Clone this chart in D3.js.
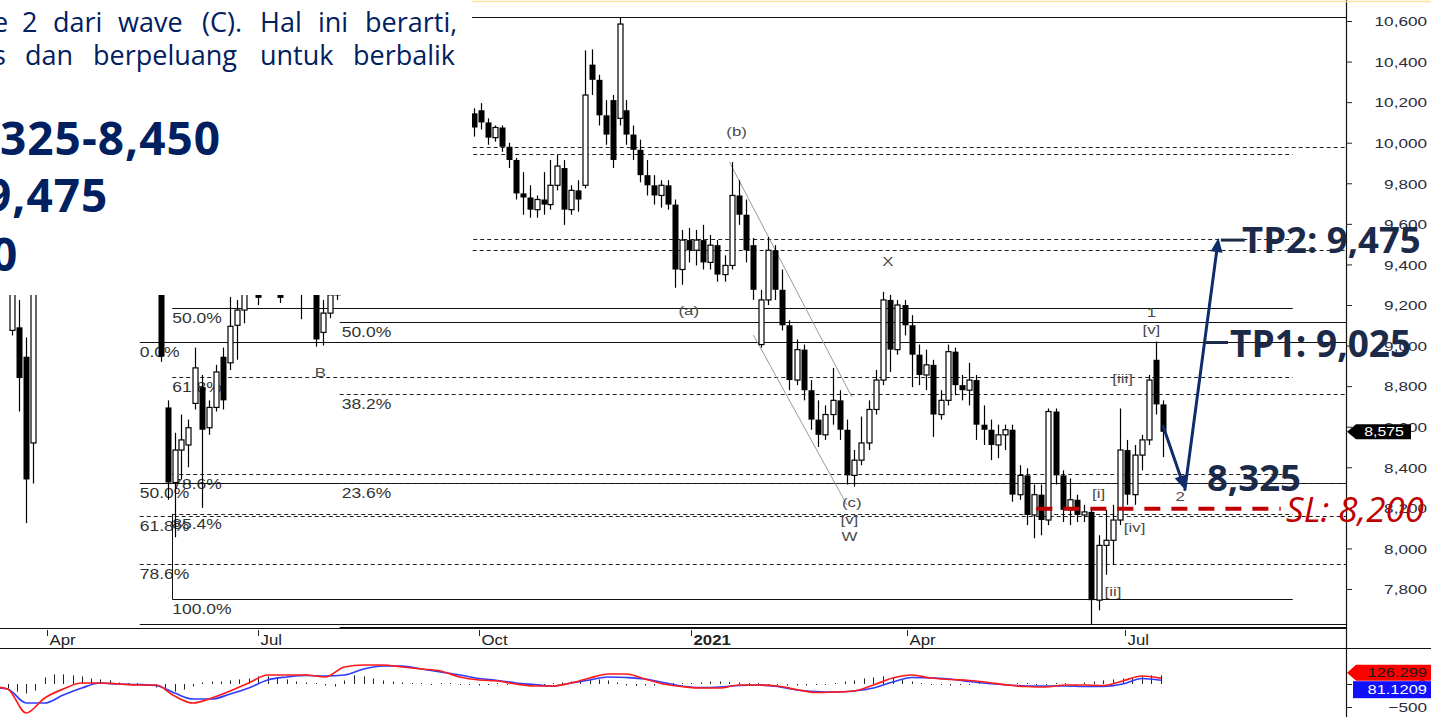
<!DOCTYPE html>
<html>
<head>
<meta charset="utf-8">
<script src="https://cdn.jsdelivr.net/npm/d3@7/dist/d3.min.js"></script>
<style>
html,body{margin:0;padding:0;background:#fff;overflow:hidden;}
svg{display:block;}
</style>
</head>
<body>
<svg id="chart" width="1431" height="717"></svg>
<script>
// ================= DATA =================
const axisMonths = ['2020-04-01','2020-07-01','2020-10-01','2021-01-01','2021-04-01','2021-07-01'];
const axisMonthLabels = ['Apr','Jul','Oct','2021','Apr','Jul'];
const priceTicks = [7800,8000,8200,8400,8600,8800,9000,9200,9400,9600,9800,10000,10200,10400,10600];
const candleStepDays = 3;

// candles: [open, high, low, close]
const candlesMarStart = '2020-03-17';
const candlesMar = [
 [9075,9420,9050,9300],[9090,9225,8675,8840],[8945,9040,8125,8340],[8520,9420,8320,9275]
];
const candlesMidStart = '2020-05-20';
const candlesMid = [
 [9375,9410,8920,8945],[8695,8730,8240,8325],[8325,8570,8055,8485],[8485,8660,8340,8535],
 [8510,8635,8400,8595],[8715,8990,8685,8890],[8795,8855,8200,8585],[8595,8730,8560,8695],
 [8695,8905,8675,8870],[8945,8990,8685,8730],[8915,9240,8880,9095],[9100,9225,8930,9175],
 [9175,9420,9110,9325],[9325,9520,9260,9420],[9375,9445,9200,9235],[9375,9470,9260,9300],
 [9300,9420,9255,9350],[9350,9420,9210,9235],[9275,9445,9255,9395],[9395,9470,9260,9325],
 [9325,9410,9130,9300],[9300,9420,9255,9350],[9350,9395,8995,9030],[9065,9225,9000,9160],
 [9160,9325,9135,9250],[9250,9420,9225,9325]
];
const candlesMainStart = '2020-09-29';
const candlesMain = [
 [10145,10170,10030,10075],[10160,10195,10065,10100],[10100,10120,9990,10025],[10025,10085,10005,10075],
 [10075,10085,9955,9980],[9980,10000,9875,9915],[9915,9925,9720,9750],[9750,9855,9645,9730],
 [9730,9790,9630,9670],[9670,9740,9630,9720],[9720,9855,9645,9695],[9695,9915,9670,9790],
 [9790,9940,9765,9885],[9875,9915,9595,9670],[9670,9790,9645,9765],[9765,9815,9660,9720],
 [9790,10455,9775,10235],[10385,10460,10235,10310],[10310,10335,10085,10135],[10135,10210,9990,10040],
 [10210,10235,9875,9915],[10120,10620,10085,10585],[10160,10210,9990,10040],[10040,10085,9915,9965],
 [9965,10015,9805,9840],[9840,9915,9740,9790],[9790,9840,9695,9740],[9740,9815,9680,9790],
 [9790,9815,9670,9695],[9695,9720,9285,9375],[9375,9570,9300,9520],[9520,9580,9410,9470],
 [9470,9570,9395,9520],[9520,9595,9375,9410],[9410,9545,9375,9495],[9495,9520,9315,9350],
 [9350,9445,9315,9395],[9395,9905,9375,9740],[9740,9815,9595,9645],[9645,9720,9410,9470],
 [9495,9530,9225,9275],[9005,9275,8990,9225],[9225,9535,9200,9470],[9470,9495,9225,9275],
 [9275,9375,9075,9100],[9100,9125,8780,8830],[8830,9030,8805,8980],[8980,9005,8730,8780],
 [8780,8830,8585,8635],[8635,8730,8500,8560],[8560,8705,8535,8660],[8660,8890,8610,8730],
 [8730,8780,8535,8585],[8585,8635,8315,8360],[8360,8485,8305,8435],[8435,8650,8410,8520],
 [8520,8730,8485,8685],[8685,8880,8660,8830],[8830,9265,8805,9225],[9225,9250,8870,8980],
 [8980,9225,8955,9200],[9200,9225,9050,9100],[9100,9150,8795,8955],[8955,9005,8805,8855],
 [8855,8980,8780,8905],[8905,8930,8550,8660],[8660,8780,8635,8730],[8730,9005,8705,8970],
 [8970,8990,8755,8805],[8805,8855,8730,8780],[8780,8915,8705,8830],[8830,8855,8535,8610],
 [8610,8705,8510,8585],[8585,8635,8435,8510],[8510,8610,8445,8560],[8560,8610,8485,8585],
 [8585,8610,8230,8265],[8265,8410,8240,8360],[8360,8395,8115,8165],[8165,8315,8050,8265],
 [8265,8315,8065,8140],[8140,8690,8115,8675],[8675,8690,8315,8360],[8360,8385,8130,8190],
 [8190,8345,8115,8240],[8240,8265,8130,8165],[8165,8215,8130,8180],[8180,8190,7625,7745],
 [7745,8065,7695,8015],[8015,8190,7870,8040],[8040,8215,7920,8140],[8140,8690,8115,8485],
 [8485,8535,8215,8265],[8265,8510,8215,8460],[8460,8560,8385,8535],[8535,8855,8510,8830],
 [8930,9020,8660,8710],[8710,8730,8450,8575]
];
const lastPrice = 8575;

// MACD panel
const macdStart = '2020-03-07';
const macdStepDays = 8;
const macdLine = [-43,-109,-630,-304,-109,22,22,0,-22,-22,
 -261,-413,-304,-152,22,196,196,196,152,370,
 413,413,370,326,283,152,87,65,0,-43,
 -43,22,130,217,217,109,0,-54,-87,-87,
 -22,-22,-43,-120,-185,-174,-152,-22,130,196,
 130,98,76,33,-22,-54,-65,-22,-22,-33,
 65,174,126.299];
const signalLine = [-65,-109,-413,-413,-239,-87,22,0,-11,-33,
 -196,-326,-326,-217,-87,87,152,185,174,196,
 326,391,391,326,261,196,120,76,22,-11,
 -43,22,87,152,141,109,33,-43,-76,-65,
 -33,-22,-54,-130,-163,-174,-152,-87,43,141,
 130,109,54,11,-22,-43,-43,-43,-54,-54,
 0,120,81.1209];
const histStart = '2020-03-11';
const histStepDays = 4;
const histValues = [-44,-88,-154,-198,-132,132,198,198,176,154,
 110,88,66,22,11,11,-22,-66,-132,-154,
 -110,-44,22,44,44,66,88,110,154,154,
 132,88,44,22,11,-22,-44,66,176,154,
 110,66,44,22,11,11,-11,11,11,-11,
 -11,-22,-11,11,-11,-11,-11,-11,-11,11,
 22,44,66,88,88,66,22,-22,-33,-22,
 -22,-11,11,11,11,22,44,44,33,22,
 11,11,-11,-11,-22,-22,-22,-11,-11,11,
 44,66,110,132,154,132,88,44,11,-11,
 -11,-22,-11,-11,11,11,-11,-11,11,11,
 -11,-11,11,11,-11,22,44,66,88,110,
 132,154,176,176];
const macdTicks = [0,-500];
const macdTagRed = 126.299;
const macdTagBlue = 81.1209;

// Fibonacci tools
const fibA = {start:'2020-05-25', end:'2021-09-09', p0:10620, p100:7751, levels:[0,23.6,38.2,50,61.8,78.6,85.4,100]};
const fibB = {start:'2020-05-11', end:'2021-10-10', p0:9018, p100:7628, levels:[0,50,61.8,78.6,100]};
const fibC = {start:'2020-08-04', end:'2021-10-10', p0:7614, p100:10620, levels:[0,23.6,38.2,50,61.8,78.6,100]};

// Elliott wave labels
const waveLabels = [
 {t:'(b)', d:'2021-01-20', p:10055},
 {t:'(a)', d:'2020-12-31', p:9175},
 {t:'X', d:'2021-03-24', p:9415},
 {t:'B', d:'2020-07-27', p:8870},
 {t:'(c)', d:'2021-03-09', p:8230},
 {t:'[v]', d:'2021-03-08', p:8145},
 {t:'W', d:'2021-03-08', p:8060},
 {t:'1', d:'2021-07-12', p:9165},
 {t:'[v]', d:'2021-07-12', p:9080},
 {t:'[iii]', d:'2021-06-30', p:8840},
 {t:'[i]', d:'2021-06-20', p:8270},
 {t:'[iv]', d:'2021-07-05', p:8105},
 {t:'[ii]', d:'2021-06-26', p:7790},
 {t:'2', d:'2021-07-24', p:8255}
];
const channelUpper = [['2021-01-17',9905],['2021-03-09',8747]];
const channelLower = [['2021-01-27',9052],['2021-03-07',8214]];

// Trade plan
const tp1 = 9025, tp2 = 9475, entryLevel = 8325, stopLoss = 8200;
const slLineDates = ['2021-05-25','2021-09-04'];
const arrowLeg1 = [['2021-07-17',8600],['2021-07-26',8290]];
const arrowLeg2 = [['2021-07-26',8290],['2021-08-09',9530]];
const tp2Dash = {from:'2021-08-10', to:'2021-08-20', p:9520};
const tp1Dash = {from:'2021-08-03', to:'2021-08-13', p:9015};

// Slide text
const introLine1 = [['e',-7],['2',22],['dari',53],['wave',118],['(C).',202],['Hal',260],['ini',318],['berarti,',365]];
const introLine2 = [['s',-7],['dan',25],['berpeluang',93],['untuk',260],['berbalik',353]];
const planLines = [['325-8,450',0,155],['9,475',-15,212],['0',-9,271]];

// ================= CHART =================
const parse = d3.timeParse('%Y-%m-%d');
const svg = d3.select('#chart');
const PLOT_R = 1346, PLOT_B = 628;

const x = d3.scaleTime()
  .domain(axisMonths.map(parse))
  .range([47,258,479,691,907,1125]);
const y = d3.scaleLinear().domain([7800,10600]).range([589,21]);
const ym = d3.scaleLinear().domain([-500,0]).range([707,684]);

const defs = svg.append('defs');
defs.append('clipPath').attr('id','plotClip').append('rect')
  .attr('x',0).attr('y',0).attr('width',PLOT_R).attr('height',PLOT_B);
defs.append('clipPath').attr('id','macdClip').append('rect')
  .attr('x',0).attr('y',649).attr('width',PLOT_R).attr('height',68);

const chartFont = 'Liberation Sans, Arial, sans-serif';
function stretchText(g, txt, px, py, o){
  o = o || {};
  return g.append('text')
    .attr('transform',`translate(${px},${py}) scale(${o.sx||1.27},1)`)
    .attr('text-anchor',o.anchor||'start')
    .attr('dy',o.dy||'0.35em')
    .style('font-family',chartFont)
    .style('font-size',(o.size||14)+'px')
    .style('font-weight',o.weight||'normal')
    .attr('fill',o.fill||'#333')
    .text(txt);
}

const plot = svg.append('g').attr('clip-path','url(#plotClip)');

// Fibonacci levels
function fibPrice(f,L){ return f.p0 + (f.p100-f.p0)*L/100; }
[fibA,fibB,fibC].forEach((f,fi)=>{
  const x1 = x(parse(f.start)), x2 = x(parse(f.end));
  f.levels.forEach(L=>{
    const solid = (L===0||L===50||L===100);
    const yy = Math.round(y(fibPrice(f,L)))+0.5;
    plot.append('line').attr('x1',x1).attr('x2',x2).attr('y1',yy).attr('y2',yy)
      .attr('stroke',solid?'#111':'#222').attr('stroke-width',solid?1.2:1)
      .attr('stroke-dasharray',solid?null:'4,3');
    stretchText(plot, L.toFixed(1)+'%', x1+(fi===2?2:0), yy+10, {size:14, sx:1.25, fill:'#333'});
  });
});
// anchor line of fib A
plot.append('line')
  .attr('x1',Math.round(x(parse(fibA.start)))+0.5).attr('x2',Math.round(x(parse(fibA.start)))+0.5)
  .attr('y1',y(fibPrice(fibA,85.4))).attr('y2',y(fibPrice(fibA,100)))
  .attr('stroke','#111').attr('stroke-width',1);

// channel lines
[channelUpper,channelLower].forEach(c=>{
  plot.append('line')
    .attr('x1',x(parse(c[0][0]))).attr('y1',y(c[0][1]))
    .attr('x2',x(parse(c[1][0]))).attr('y2',y(c[1][1]))
    .attr('stroke','#9a9a9a').attr('stroke-width',1);
});

// candles
function seg(start, arr){
  const s = parse(start);
  return arr.map((v,i)=>({date:d3.timeDay.offset(s,i*candleStepDays),o:v[0],h:v[1],l:v[2],c:v[3]}));
}
const candles = [].concat(seg(candlesMarStart,candlesMar), seg(candlesMidStart,candlesMid), seg(candlesMainStart,candlesMain));
const cg = plot.append('g');
candles.forEach(d=>{
  const cx = Math.round(x(d.date))+0.5;
  cg.append('line').attr('x1',cx).attr('x2',cx).attr('y1',y(d.h)).attr('y2',y(d.l))
    .attr('stroke','#000').attr('stroke-width',1.2);
  const top = Math.min(y(d.o),y(d.c)), hgt = Math.max(2,Math.abs(y(d.o)-y(d.c)));
  if(d.c >= d.o){
    cg.append('rect').attr('x',cx-2.5).attr('y',top).attr('width',5).attr('height',hgt)
      .attr('fill','#fff').attr('stroke','#000').attr('stroke-width',1.2);
  } else {
    cg.append('rect').attr('x',cx-3).attr('y',top).attr('width',6).attr('height',hgt)
      .attr('fill','#000');
  }
});

// wave labels
waveLabels.forEach(w=>{
  stretchText(plot, w.t, x(parse(w.d)), y(w.p), {anchor:'middle', size:13.5, sx:1.25, fill:'#4a4a4a'});
});

// stop-loss dashed line
plot.append('line')
  .attr('x1',x(parse(slLineDates[0]))).attr('x2',x(parse(slLineDates[1])))
  .attr('y1',y(stopLoss)+1).attr('y2',y(stopLoss)+1)
  .attr('stroke','#c00000').attr('stroke-width',4).attr('stroke-dasharray','16,11');

// arrows
const navy = '#0f2c6b';
function arrow(g, a, b){
  const x1=x(parse(a[0])), y1=y(a[1]), x2=x(parse(b[0])), y2=y(b[1]);
  const dx=x2-x1, dy=y2-y1, len=Math.hypot(dx,dy), ux=dx/len, uy=dy/len;
  const bx=x2-ux*14, by=y2-uy*14, nx=-uy, ny=ux;
  g.append('line').attr('x1',x1).attr('y1',y1).attr('x2',bx).attr('y2',by)
    .attr('stroke',navy).attr('stroke-width',3).attr('stroke-linecap','round');
  g.append('polygon').attr('points',`${x2},${y2} ${bx+nx*6},${by+ny*6} ${bx-nx*6},${by-ny*6}`)
    .attr('fill',navy);
}

// ================= MACD PANEL =================
const mg = svg.append('g').attr('clip-path','url(#macdClip)');
const hs = parse(histStart);
histValues.forEach((v,i)=>{
  const hx = Math.round(x(d3.timeDay.offset(hs,i*histStepDays)))+0.5;
  mg.append('line').attr('x1',hx).attr('x2',hx).attr('y1',ym(0)).attr('y2',ym(v)+(v>=0?-0.5:0.5))
    .attr('stroke','#222').attr('stroke-width',1);
});
const ms = parse(macdStart);
const mLine = d3.line().x((v,i)=>x(d3.timeDay.offset(ms,i*macdStepDays))).y(v=>ym(v)).curve(d3.curveMonotoneX);
mg.append('path').attr('d',mLine(signalLine)).attr('fill','none').attr('stroke','#2f3cff').attr('stroke-width',1.7);
mg.append('path').attr('d',mLine(macdLine)).attr('fill','none').attr('stroke','#ff1a1a').attr('stroke-width',1.7);

// ================= FRAME & AXES =================
svg.append('line').attr('x1',0).attr('x2',PLOT_R).attr('y1',628.5).attr('y2',628.5).attr('stroke','#111').attr('stroke-width',1.2);
svg.append('line').attr('x1',0).attr('x2',1431).attr('y1',648.5).attr('y2',648.5).attr('stroke','#111').attr('stroke-width',1.2);
svg.append('line').attr('x1',PLOT_R+0.5).attr('x2',PLOT_R+0.5).attr('y1',0).attr('y2',717).attr('stroke','#111').attr('stroke-width',1.2);

// x axis
const xAxis = d3.axisBottom(x).tickValues(axisMonths.map(parse)).tickSize(6)
  .tickFormat((d,i)=>axisMonthLabels[i]);
const xg = svg.append('g').attr('transform','translate(0,630)').call(xAxis);
xg.select('.domain').remove();
xg.selectAll('.tick line').attr('stroke','#222');
xg.selectAll('.tick text')
  .attr('y',null).attr('dy',null)
  .attr('text-anchor','start')
  .attr('transform','translate(2,14.5) scale(1.2,1)')
  .style('font-family',chartFont).style('font-size','14px')
  .style('font-weight',(d,i)=>i===3?'bold':'normal')
  .attr('fill','#222');

// price axis
const yAxis = d3.axisRight(y).tickValues(priceTicks).tickSize(6).tickFormat(d3.format(','));
const yg = svg.append('g').attr('transform',`translate(${PLOT_R},0)`).call(yAxis);
yg.select('.domain').remove();
yg.selectAll('.tick line').attr('stroke','#222');
yg.selectAll('.tick text')
  .attr('x',null).attr('dy','0.35em')
  .attr('text-anchor','end')
  .attr('transform','translate(81,0) scale(1.27,1)')
  .style('font-family',chartFont).style('font-size','13.5px')
  .attr('fill','#2b2b3a');

// MACD axis
const mAxis = d3.axisRight(ym).tickValues(macdTicks).tickSize(6).tickFormat(d3.format(''));
const mag = svg.append('g').attr('transform',`translate(${PLOT_R},0)`).call(mAxis);
mag.select('.domain').remove();
mag.selectAll('.tick line').attr('stroke','#222');
mag.selectAll('.tick text')
  .attr('x',null).attr('dy','0.35em').attr('text-anchor','end')
  .attr('transform','translate(81,0) scale(1.27,1)')
  .style('font-family',chartFont).style('font-size','13.5px')
  .attr('fill','#2b2b3a');

// last price tag
(function(){
  const ty = y(lastPrice);
  svg.append('polygon')
    .attr('points',`${PLOT_R+1},${ty} ${PLOT_R+10},${ty-7.5} ${1411},${ty-7.5} ${1411},${ty+7.5} ${PLOT_R+10},${ty+7.5}`)
    .attr('fill','#000');
  stretchText(svg, d3.format(',')(lastPrice), 1384, ty, {anchor:'middle', size:13, sx:1.22, fill:'#fff'});
})();

// MACD value tags
(function(){
  const ry = ym(macdTagRed) - 5.5;
  const by = ry + 17;
  svg.append('polygon')
    .attr('points',`${PLOT_R+1},${ry} ${PLOT_R+10},${ry-8} 1431,${ry-8} 1431,${ry+8} ${PLOT_R+10},${ry+8}`)
    .attr('fill','#ff0000');
  stretchText(svg, String(macdTagRed), 1427, ry, {anchor:'end', size:13.5, sx:1.22, fill:'#1a1a1a'});
  svg.append('rect').attr('x',PLOT_R+7).attr('y',by-8.5).attr('width',1431-PLOT_R-7).attr('height',17)
    .attr('fill','#1010ff');
  stretchText(svg, String(macdTagBlue), 1427, by, {anchor:'end', size:13.5, sx:1.22, fill:'#fff'});
})();

// ================= SLIDE OVERLAY =================
svg.append('rect').attr('x',0).attr('y',0).attr('width',472).attr('height',295).attr('fill','#fff');
svg.append('line').attr('x1',472).attr('x2',1431).attr('y1',1.5).attr('y2',1.5).attr('stroke','#ffe39a').attr('stroke-width',1.5);

const slideFont = '"Open Sans", "Noto Sans", sans-serif';
const slide = svg.append('g').style('font-family',slideFont);
introLine1.forEach(w=>slide.append('text').attr('x',w[1]).attr('y',32).style('font-size','27px').attr('fill','#002060').text(w[0]));
introLine2.forEach(w=>slide.append('text').attr('x',w[1]).attr('y',65).style('font-size','27px').attr('fill','#002060').text(w[0]));
planLines.forEach(l=>slide.append('text').attr('x',l[1]).attr('y',l[2]).style('font-size','46px').style('letter-spacing','1px').style('font-weight','bold').attr('fill','#002060').text(l[0]));

// arrows + trade annotation on top
const ann = svg.append('g');
arrow(ann, arrowLeg1[0], arrowLeg1[1]);
arrow(ann, arrowLeg2[0], arrowLeg2[1]);
[tp2Dash,tp1Dash].forEach(t=>{
  ann.append('line').attr('x1',x(parse(t.from))).attr('x2',x(parse(t.to)))
    .attr('y1',y(t.p)).attr('y2',y(t.p)).attr('stroke','#1b2a48').attr('stroke-width',3);
});
const tpColor = '#1b2a48';
function bigText(txt, px, py, o){
  return ann.append('text').attr('x',px).attr('y',py)
    .style('font-family',slideFont).style('font-size',(o.size||36.5)+'px')
    .style('font-weight',o.weight||'bold').style('font-style',o.style||'normal')
    .attr('fill',o.fill||tpColor).text(txt);
}
bigText('TP2: '+d3.format(',')(tp2), 1242, y(tp2)+4, {});
bigText('TP1: '+d3.format(',')(tp1), 1230, y(tp1)+16, {size:37});
bigText(d3.format(',')(entryLevel), 1207, y(entryLevel)+8, {});
bigText('SL: '+d3.format(',')(stopLoss), 1286, y(stopLoss)+14, {size:35, weight:'normal', style:'italic', fill:'#c00000'});
</script>
</body>
</html>
